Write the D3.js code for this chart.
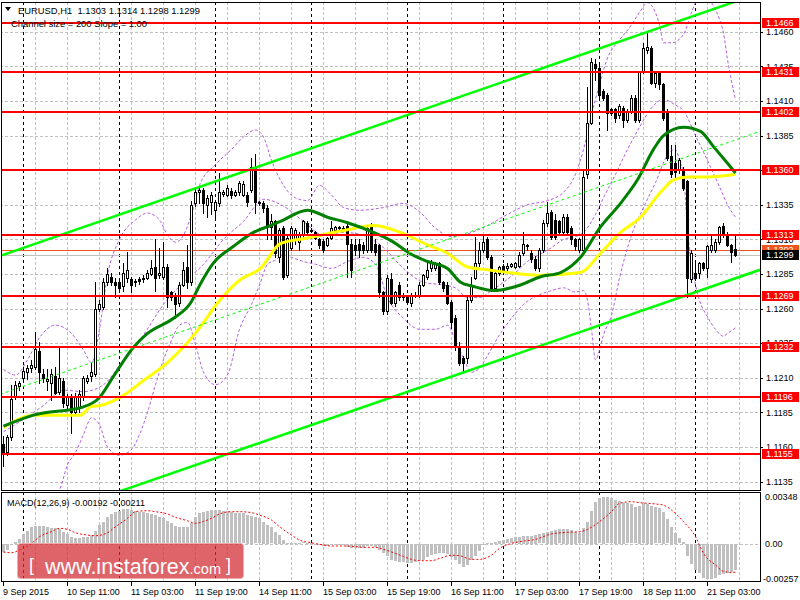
<!DOCTYPE html>
<html>
<head>
<meta charset="utf-8">
<script src="https://cdn.jsdelivr.net/npm/d3@7/dist/d3.min.js"></script>
<style>
  html, body { margin: 0; padding: 0; background: #fff; }
  svg { display: block; font-family: "Liberation Sans", Arial, sans-serif; font-size: 9px; }
</style>
</head>
<body>
<svg id="chart" width="800" height="600"></svg>
<script>
// EURUSD H1, 9 Sep 19:00 .. 21 Sep 10:00 (one value per hourly bar)
const open = [
  1.1162,1.1156,1.1167,1.1197,1.1204,1.1210,1.1214,1.1217,1.1218,1.1229,
  1.1213,1.1208,1.1206,1.1211,1.1200,1.1208,1.1190,1.1197,1.1185,1.1189,
  1.1196,1.1208,1.1211,1.1213,1.1260,1.1261,1.1279,1.1283,1.1279,1.1279,
  1.1276,1.1282,1.1281,1.1279,1.1281,1.1281,1.1282,1.1285,1.1290,1.1284,
  1.1283,1.1290,1.1272,1.1268,1.1264,1.1277,1.1290,1.1279,1.1336,1.1344,
  1.1346,1.1335,1.1337,1.1331,1.1336,1.1343,1.1342,1.1345,1.1342,1.1344,
  1.1342,1.1342,1.1346,1.1362,1.1337,1.1336,1.1333,1.1319,1.1323,1.1297,
  1.1318,1.1284,1.1304,1.1310,1.1308,1.1313,1.1322,1.1317,1.1315,1.1310,
  1.1309,1.1306,1.1311,1.1317,1.1318,1.1318,1.1320,1.1307,1.1306,1.1307,
  1.1306,1.1302,1.1319,1.1307,1.1306,1.1272,1.1258,1.1281,1.1264,1.1277,
  1.1268,1.1268,1.1264,1.1270,1.1270,1.1277,1.1283,1.1289,1.1289,1.1293,
  1.1279,1.1277,1.1265,1.1253,1.1232,1.1224,1.1224,1.1266,1.1282,1.1293,
  1.1302,1.1310,1.1297,1.1275,1.1286,1.1291,1.1289,1.1291,1.1290,1.1291,
  1.1300,1.1305,1.1300,1.1296,1.1289,1.1302,1.1322,1.1330,1.1324,1.1323,
  1.1315,1.1326,1.1318,1.1310,1.1302,1.1302,1.1357,1.1394,1.1437,1.1434,
  1.1417,1.1414,1.1404,1.1404,1.1400,1.1405,1.1396,1.1402,1.1412,1.1396,
  1.1431,1.1447,1.1448,1.1423,1.1431,1.1422,1.1401,1.1370,1.1365,1.1360,
  1.1360,1.1352,1.1281,1.1286,1.1286,1.1293,1.1289,1.1302,1.1302,1.1308,
  1.1320,1.1313,1.1306,1.1303
];
const high = [
  1.1168,1.1169,1.1205,1.1208,1.1208,1.1218,1.1219,1.1223,1.1243,1.1236,
  1.1216,1.1216,1.1216,1.1218,1.1232,1.1210,1.1198,1.1198,1.1199,1.1201,
  1.1211,1.1212,1.1221,1.1279,1.1266,1.1282,1.1289,1.1286,1.1282,1.1281,
  1.1293,1.1301,1.1283,1.1281,1.1283,1.1284,1.1288,1.1295,1.1310,1.1304,
  1.1308,1.1292,1.1273,1.1271,1.1279,1.1294,1.1306,1.1338,1.1348,1.1348,
  1.1347,1.1342,1.1344,1.1338,1.1358,1.1346,1.1349,1.1347,1.1346,1.1352,
  1.1352,1.1344,1.1369,1.1372,1.1338,1.1338,1.1335,1.1328,1.1324,1.1318,
  1.1320,1.1313,1.1320,1.1318,1.1315,1.1324,1.1323,1.1318,1.1316,1.1311,
  1.1310,1.1312,1.1323,1.1320,1.1320,1.1320,1.1323,1.1310,1.1310,1.1310,
  1.1308,1.1320,1.1322,1.1310,1.1307,1.1273,1.1284,1.1286,1.1273,1.1279,
  1.1271,1.1270,1.1271,1.1272,1.1279,1.1285,1.1295,1.1295,1.1294,1.1294,
  1.1280,1.1279,1.1266,1.1255,1.1236,1.1226,1.1268,1.1283,1.1312,1.1308,
  1.1313,1.1312,1.1299,1.1288,1.1291,1.1292,1.1293,1.1293,1.1294,1.1301,
  1.1315,1.1307,1.1302,1.1298,1.1304,1.1324,1.1337,1.1331,1.1328,1.1324,
  1.1328,1.1328,1.1320,1.1311,1.1311,1.1360,1.1420,1.1441,1.1440,1.1436,
  1.1419,1.1416,1.1405,1.1405,1.1408,1.1406,1.1404,1.1414,1.1414,1.1432,
  1.1452,1.1459,1.1450,1.1432,1.1432,1.1423,1.1404,1.1378,1.1378,1.1369,
  1.1362,1.1353,1.1302,1.1295,1.1294,1.1294,1.1306,1.1313,1.1310,1.1320,
  1.1322,1.1315,1.1307,1.1314
];
const low = [
  1.1146,1.1154,1.1165,1.1195,1.1201,1.1208,1.1209,1.1214,1.1216,1.1206,
  1.1207,1.1201,1.1194,1.1198,1.1198,1.1189,1.1188,1.1170,1.1183,1.1185,
  1.1194,1.1206,1.1208,1.1211,1.1258,1.1260,1.1277,1.1277,1.1268,1.1272,
  1.1273,1.1279,1.1272,1.1276,1.1278,1.1279,1.1281,1.1284,1.1273,1.1282,
  1.1281,1.1261,1.1266,1.1253,1.1262,1.1276,1.1275,1.1277,1.1334,1.1336,
  1.1329,1.1326,1.1328,1.1326,1.1334,1.1341,1.1341,1.1340,1.1341,1.1342,
  1.1341,1.1334,1.1344,1.1329,1.1335,1.1330,1.1310,1.1310,1.1297,1.1294,
  1.1281,1.1283,1.1302,1.1307,1.1302,1.1312,1.1314,1.1315,1.1310,1.1304,
  1.1301,1.1305,1.1310,1.1315,1.1317,1.1316,1.1283,1.1283,1.1299,1.1297,
  1.1300,1.1301,1.1301,1.1299,1.1268,1.1256,1.1256,1.1263,1.1262,1.1266,
  1.1266,1.1263,1.1262,1.1268,1.1268,1.1276,1.1281,1.1287,1.1288,1.1278,
  1.1273,1.1263,1.1246,1.1230,1.1219,1.1214,1.1221,1.1265,1.1281,1.1291,
  1.1301,1.1296,1.1273,1.1273,1.1284,1.1286,1.1288,1.1290,1.1289,1.1290,
  1.1299,1.1302,1.1294,1.1288,1.1287,1.1301,1.1320,1.1310,1.1310,1.1313,
  1.1313,1.1313,1.1307,1.1302,1.1301,1.1301,1.1354,1.1393,1.1425,1.1413,
  1.1411,1.1389,1.1400,1.1395,1.1398,1.1391,1.1395,1.1401,1.1395,1.1395,
  1.1430,1.1445,1.1422,1.1420,1.1419,1.1396,1.1367,1.1355,1.1354,1.1358,
  1.1346,1.1268,1.1279,1.1281,1.1282,1.1288,1.1283,1.1301,1.1301,1.1307,
  1.1312,1.1305,1.1294,1.1298
];
const close = [
  1.1156,1.1167,1.1195,1.1205,1.1206,1.1215,1.1217,1.1219,1.1231,1.1214,
  1.1210,1.1209,1.1213,1.1199,1.1210,1.1192,1.1196,1.1185,1.1196,1.1198,
  1.1210,1.1210,1.1214,1.1260,1.1263,1.1279,1.1285,1.1279,1.1277,1.1275,
  1.1286,1.1288,1.1277,1.1280,1.1280,1.1282,1.1286,1.1289,1.1282,1.1286,
  1.1290,1.1268,1.1268,1.1263,1.1277,1.1288,1.1279,1.1335,1.1344,1.1346,
  1.1336,1.1340,1.1342,1.1337,1.1344,1.1344,1.1347,1.1342,1.1344,1.1351,
  1.1350,1.1337,1.1362,1.1337,1.1336,1.1333,1.1319,1.1323,1.1300,1.1317,
  1.1283,1.1311,1.1318,1.1317,1.1313,1.1323,1.1315,1.1316,1.1311,1.1306,
  1.1302,1.1311,1.1318,1.1319,1.1319,1.1317,1.1307,1.1288,1.1302,1.1302,
  1.1302,1.1318,1.1302,1.1301,1.1272,1.1258,1.1282,1.1264,1.1272,1.1268,
  1.1269,1.1265,1.1270,1.1269,1.1277,1.1284,1.1288,1.1293,1.1292,1.1279,
  1.1275,1.1264,1.1250,1.1232,1.1221,1.1221,1.1266,1.1277,1.1293,1.1302,
  1.1308,1.1297,1.1275,1.1286,1.1290,1.1288,1.1291,1.1292,1.1293,1.1299,
  1.1307,1.1306,1.1296,1.1289,1.1302,1.1322,1.1329,1.1312,1.1312,1.1315,
  1.1326,1.1315,1.1310,1.1305,1.1310,1.1355,1.1394,1.1438,1.1434,1.1414,
  1.1412,1.1401,1.1401,1.1398,1.1406,1.1396,1.1402,1.1412,1.1396,1.1431,
  1.1448,1.1449,1.1423,1.1430,1.1422,1.1398,1.1369,1.1357,1.1359,1.1367,
  1.1347,1.1282,1.1300,1.1282,1.1293,1.1289,1.1305,1.1306,1.1308,1.1319,
  1.1313,1.1306,1.1301,1.1299
];

// moving averages, read as [bar, price]
const maGreen = [
  [0,1.1175],[7.5,1.1183],[20,1.1189],[23.75,1.1195],[27.5,1.1211],[32.5,1.1232],
  [36,1.1242],[42.5,1.1253],[46.75,1.1264],[49.25,1.1278],[52.5,1.1293],[57.5,1.1305],
  [62.5,1.1315],[66.75,1.1320],[69.25,1.1323],[76,1.1331],[81,1.1326],[86,1.1322],
  [92.5,1.1315],[97.5,1.1308],[101.5,1.1300],[106,1.1294],[111,1.1289],[114.25,1.1279],
  [117.5,1.1276],[122.5,1.1273],[129.25,1.1277],[134.25,1.1283],[139.25,1.1286],
  [144.25,1.1297],[149.25,1.1319],[154.25,1.1336],[158.5,1.1353],[162.5,1.1375],
  [165,1.1385],[170,1.1391],[174.25,1.1388],[177.5,1.1377],[181,1.1365],[183,1.1358]
];
const maYellow = [
  [0,1.1174],[7.5,1.1183],[11.75,1.1183],[19.25,1.1183],[21.75,1.1189],[24.25,1.1190],
  [29.25,1.1196],[35,1.1208],[41,1.1221],[44.25,1.1230],[49.25,1.1247],[53.5,1.1264],
  [59.25,1.1281],[64.25,1.1289],[69.25,1.1307],[76,1.1311],[86,1.1317],[92.5,1.1320],
  [99.25,1.1315],[106,1.1306],[111,1.1300],[116,1.1290],[121,1.1288],[129.25,1.1285],
  [134.25,1.1284],[144.25,1.1286],[149.25,1.1300],[154.25,1.1315],[159.25,1.1326],
  [164.25,1.1344],[167.5,1.1353],[171,1.1355],[176,1.1355],[183,1.1357]
];

// bands (dashed purple), read as [bar, price]
const bandUpper = [
  [0,1.1216],[3,1.1212],[6,1.1223],[9,1.1239],[13,1.1248],[17,1.1242],[20,1.1230],
  [22,1.1221],[24,1.1245],[26,1.1284],[29,1.1310],[33,1.1324],[36,1.1329],[39,1.1324],
  [41,1.1313],[43,1.1308],[45,1.1313],[47,1.1328],[49,1.1349],[53,1.1364],[57,1.1375],
  [60,1.1384],[63,1.1389],[65,1.1384],[67,1.1367],[70,1.1349],[73,1.1340],[76,1.1338],
  [79,1.1349],[82,1.1342],[85,1.1333],[89,1.1331],[95,1.1333],[100,1.1336],[104,1.1330],
  [108,1.1318],[112,1.1312],[116,1.1314],[121,1.1320],[126,1.1328],[131,1.1335],
  [136,1.1338],[140,1.1344],[143,1.1357],[145,1.1375],[147,1.1400],[149,1.1422],
  [151,1.1441],[154,1.1454],[157,1.1465],[159,1.1474],[161,1.1481],[162,1.1479],
  [164,1.1465],[165,1.1452],[167,1.1452],[170,1.1458],[172,1.1474],[173,1.1481],
  [174,1.1485],[176,1.1485],[177,1.1481],[179,1.1469],[180,1.1459],[181,1.1440],[183,1.1411]
];
const bandMiddle = [
  [0,1.1171],[5,1.1180],[10,1.1190],[15,1.1201],[20,1.1200],[25,1.1205],[30,1.1223],
  [35,1.1241],[40,1.1263],[45,1.1279],[50,1.1292],[55,1.1310],[60,1.1323],[65,1.1339],
  [70,1.1334],[75,1.1323],[80,1.1313],[85,1.1315],[90,1.1313],[95,1.1304],[100,1.1289],
  [105,1.1279],[110,1.1277],[113,1.1275],[116,1.1268],[119,1.1268],[122,1.1273],
  [125,1.1279],[128,1.1286],[131,1.1294],[134,1.1299],[137,1.1304],[140,1.1310],
  [143,1.1312],[145,1.1315],[148,1.1328],[150,1.1340],[153,1.1357],[156,1.1375],
  [159,1.1391],[162,1.1405],[165,1.1411],[168,1.1407],[170,1.1403],[173,1.1385],
  [176,1.1367],[179,1.1348],[181,1.1335],[183,1.1326]
];
const bandLower = [
  [0,1.1122],[10,1.1118],[14,1.1129],[16,1.1147],[18,1.1156],[20,1.1169],[22,1.1181],
  [24,1.1176],[26,1.1160],[29,1.1154],[32,1.1158],[34,1.1169],[36,1.1185],[38,1.1205],
  [40,1.1223],[42,1.1237],[44,1.1248],[46,1.1250],[48,1.1234],[50,1.1214],[53,1.1205],
  [56,1.1212],[59,1.1245],[62,1.1263],[64,1.1277],[66,1.1292],[68,1.1295],[70,1.1299],
  [72,1.1297],[75,1.1294],[78,1.1292],[82,1.1289],[86,1.1294],[90,1.1297],[93,1.1292],
  [96,1.1268],[100,1.1253],[104,1.1245],[108,1.1245],[111,1.1248],[113,1.1237],
  [115,1.1224],[117,1.1214],[119,1.1217],[121,1.1226],[124,1.1241],[127,1.1253],
  [130,1.1263],[134,1.1270],[137,1.1273],[140,1.1275],[143,1.1272],[145,1.1273],
  [146,1.1266],[147,1.1245],[148,1.1223],[149,1.1230],[150,1.1241],[152,1.1255],
  [154,1.1282],[157,1.1313],[160,1.1333],[163,1.1351],[166,1.1371],[168,1.1375],
  [169,1.1367],[170,1.1357],[171,1.1317],[172,1.1292],[173,1.1277],[174,1.1266],
  [176,1.1254],[178,1.1245],[180,1.1240],[181,1.1242],[183,1.1246]
];

// equidistant channel (size 200, slope 1.00)
const channelUpper = [[-0.75, 1.1298], [189.25, 1.1488]];
const channelMiddle = [[-0.75, 1.1198], [189.25, 1.1388]];
const channelLower = [[-0.75, 1.1098], [189.25, 1.1288]];

const levels = [1.1466, 1.1431, 1.1402, 1.1360, 1.1313, 1.1269, 1.1232, 1.1196, 1.1155];
const priceTicks = [1.1460, 1.1435, 1.1410, 1.1385, 1.1360, 1.1335, 1.1310, 1.1285,
                    1.1260, 1.1235, 1.1210, 1.1185, 1.1160, 1.1135];
const bid = 1.1299, ask = 1.1302;

// MACD(12,26,9) main (histogram) per bar
const macd = [
  -0.00059,-0.00042,-0.00010,0.00015,0.00032,0.00069,0.00096,0.00121,0.00131,0.00133,
  0.00131,0.00126,0.00118,0.00114,0.00106,0.00089,0.00072,0.00052,0.00044,0.00039,
  0.00047,0.00052,0.00064,0.00096,0.00138,0.00163,0.00195,0.00220,0.00232,0.00242,
  0.00254,0.00254,0.00249,0.00242,0.00237,0.00232,0.00225,0.00220,0.00212,0.00200,
  0.00188,0.00170,0.00151,0.00133,0.00126,0.00121,0.00126,0.00151,0.00195,0.00225,
  0.00237,0.00244,0.00249,0.00249,0.00249,0.00244,0.00239,0.00234,0.00230,0.00230,
  0.00225,0.00212,0.00205,0.00195,0.00188,0.00163,0.00138,0.00121,0.00089,0.00064,
  0.00027,0.00007,0.00002,0.00002,0.00007,0.00010,0.00007,0.00002,-0.00005,-0.00010,
  -0.00017,-0.00017,-0.00010,-0.00005,-0.00010,-0.00010,-0.00022,-0.00027,-0.00027,-0.00027,
  -0.00027,-0.00017,-0.00017,-0.00022,-0.00042,-0.00067,-0.00091,-0.00116,-0.00126,-0.00131,
  -0.00133,-0.00141,-0.00141,-0.00133,-0.00126,-0.00116,-0.00096,-0.00084,-0.00072,-0.00067,
  -0.00067,-0.00077,-0.00096,-0.00121,-0.00151,-0.00170,-0.00158,-0.00121,-0.00091,-0.00052,
  -0.00010,0.00007,0.00007,0.00015,0.00022,0.00027,0.00032,0.00039,0.00047,0.00052,
  0.00057,0.00059,0.00059,0.00064,0.00069,0.00077,0.00089,0.00096,0.00101,0.00106,
  0.00109,0.00109,0.00101,0.00089,0.00077,0.00114,0.00163,0.00242,0.00311,0.00336,
  0.00348,0.00343,0.00336,0.00323,0.00316,0.00304,0.00299,0.00291,0.00269,0.00279,
  0.00299,0.00294,0.00279,0.00269,0.00262,0.00237,0.00180,0.00126,0.00081,0.00039,
  0.00015,-0.00091,-0.00151,-0.00190,-0.00215,-0.00249,-0.00257,-0.00257,-0.00249,-0.00232,
  -0.00222,-0.00212,-0.00205,-0.00192
];
// signal line, read as [bar, value]
const macdSignal = [
  [0,-0.00062],[2,-0.00067],[4,-0.00047],[7,0.00002],[9,0.00052],[12,0.00089],[14,0.00114],
  [16,0.00106],[18,0.00081],[21,0.00064],[23,0.00059],[26,0.00081],[28,0.00126],[31,0.00188],
  [33,0.00237],[36,0.00244],[38,0.00237],[41,0.00220],[43,0.00195],[46,0.00170],[48,0.00151],
  [50,0.00165],[52,0.00188],[54,0.00220],[57,0.00237],[59,0.00237],[62,0.00230],[64,0.00212],
  [67,0.00175],[69,0.00126],[72,0.00064],[74,0.00027],[77,0.00007],[79,-0.00005],[82,-0.00017],
  [85,-0.00017],[88,-0.00022],[90,-0.00027],[93,-0.00027],[95,-0.00042],[98,-0.00072],
  [100,-0.00095],[102,-0.00116],[104,-0.00126],[107,-0.00126],[109,-0.00109],[112,-0.00086],
  [114,-0.00089],[117,-0.00116],[119,-0.00116],[122,-0.00084],[124,-0.00035],[127,0.00002],
  [129,0.00015],[133,0.00032],[137,0.00072],[141,0.00084],[144,0.00089],[146,0.00106],
  [149,0.00163],[152,0.00237],[154,0.00299],[157,0.00311],[159,0.00304],[163,0.00294],
  [165,0.00286],[167,0.00249],[170,0.00163],[173,0.00052],[175,-0.00072],[178,-0.00158],
  [180,-0.00205],[182,-0.00213],[183,-0.00211]
];

const svg = d3.select('#chart');
const plotRight = 760, mainTop = 2, mainBottom = 490, macdTop = 492, macdBottom = 582;

// bar index -> x (4 px per bar), price -> y
const x = d3.scaleLinear().domain([-0.75, 189.25]).range([0, plotRight]);
const y = d3.scaleLinear().domain([1.11289, 1.14815]).range([mainBottom, mainTop]);
const ym = d3.scaleLinear().domain([-0.00257, 0.00348]).range([578.4, 496.7]);

// bar times: hourly, weekend skipped
const times = [];
let t = new Date(2015, 8, 9, 19);
for (let i = 0; i < open.length; i++) {
  times.push(new Date(t));
  t = d3.timeHour.offset(t, 1);
  while (t.getDay() === 0 || t.getDay() === 6) t = d3.timeHour.offset(t, 1);
}
const fmt = d3.timeFormat('%-d %b %H:%M');
const separators = d3.range(times.length).filter(i => times[i].getHours() === 0);
const gridBars = d3.range(8, 190, 8);
const labelBars = d3.range(0, times.length, 16);

const defs = svg.append('defs');
defs.append('clipPath').attr('id', 'mainClip').append('rect')
  .attr('x', 2).attr('y', mainTop + 1).attr('width', plotRight - 2).attr('height', mainBottom - mainTop - 1);
defs.append('clipPath').attr('id', 'macdClip').append('rect')
  .attr('x', 2).attr('y', macdTop + 1).attr('width', plotRight - 2).attr('height', macdBottom - macdTop - 1);

const main = svg.append('g').attr('clip-path', 'url(#mainClip)');
const px = v => Math.round(v) + 0.5;

// grid
main.append('g').selectAll('line').data(priceTicks).enter().append('line')
  .attr('x1', 0).attr('x2', plotRight)
  .attr('y1', d => px(y(d))).attr('y2', d => px(y(d)))
  .attr('stroke', '#c0c0c0').attr('stroke-dasharray', '3,2');
main.append('g').selectAll('line').data(gridBars).enter().append('line')
  .attr('x1', d => x(d) + 0.5).attr('x2', d => x(d) + 0.5)
  .attr('y1', mainTop).attr('y2', mainBottom)
  .attr('stroke', '#c0c0c0').attr('stroke-dasharray', '3,2');
main.append('g').selectAll('line').data(separators).enter().append('line')
  .attr('x1', d => x(d) + 0.5).attr('x2', d => x(d) + 0.5)
  .attr('y1', mainTop).attr('y2', mainBottom)
  .attr('stroke', '#000').attr('stroke-dasharray', '3,3');

// header (objects are drawn over it)
svg.append('path').attr('d', 'M5,7 L11,7 L8,11 Z').attr('fill', '#000');
svg.append('text').attr('x', 18).attr('y', 13.5).attr('fill', '#000').style('font-size', '9.4px')
  .attr('xml:space', 'preserve').text('EURUSD,H1  1.1303 1.1314 1.1298 1.1299');
svg.append('text').attr('x', 11).attr('y', 26.5).attr('fill', '#000').style('font-size', '9.4px')
  .text('Channel size = 200 Slope = 1.00');

// bid / ask lines
main.append('line').attr('x1', 0).attr('x2', plotRight)
  .attr('y1', px(y(ask))).attr('y2', px(y(ask))).attr('stroke', '#f0541e');
main.append('line').attr('x1', 0).attr('x2', plotRight)
  .attr('y1', px(y(bid))).attr('y2', px(y(bid))).attr('stroke', '#c0c0c0');

// bands
const pl = d3.line().x(d => x(d[0]) + 0.5).y(d => y(d[1])).curve(d3.curveMonotoneX);
[bandUpper, bandMiddle, bandLower].forEach(b => {
  main.append('path').attr('d', pl(b)).attr('fill', 'none')
    .attr('stroke', '#b45ee0').attr('stroke-width', 1).attr('stroke-dasharray', '3,2');
});

// candles
const candles = main.append('g');
open.forEach((o, i) => {
  const cx = x(i);
  const c = close[i];
  const hi = Math.round(y(high[i])), lo = Math.round(y(low[i]));
  const top = Math.round(y(Math.max(o, c))), bot = Math.round(y(Math.min(o, c)));
  candles.append('rect').attr('x', cx).attr('y', hi).attr('width', 1)
    .attr('height', Math.max(1, lo - hi + 1)).attr('fill', '#000');
  candles.append('rect').attr('x', cx - 1).attr('y', top).attr('width', 3)
    .attr('height', Math.max(1, bot - top + 1)).attr('fill', '#000');
  if (c > o && bot - top >= 2) {
    candles.append('rect').attr('x', cx).attr('y', top + 1).attr('width', 1)
      .attr('height', bot - top - 1).attr('fill', '#fff');
  }
});

// moving averages
main.append('path').attr('d', pl(maYellow)).attr('fill', 'none')
  .attr('stroke', '#ffff00').attr('stroke-width', 3);
main.append('path').attr('d', pl(maGreen)).attr('fill', 'none')
  .attr('stroke', '#008000').attr('stroke-width', 3);

// channel
const sl = d3.line().x(d => x(d[0])).y(d => y(d[1]));
main.append('path').attr('d', sl(channelUpper)).attr('stroke', '#00ff00').attr('stroke-width', 2.5);
main.append('path').attr('d', sl(channelLower)).attr('stroke', '#00ff00').attr('stroke-width', 2.5);
main.append('path').attr('d', sl(channelMiddle)).attr('stroke', '#00ff00')
  .attr('stroke-width', 1).attr('stroke-dasharray', '3,3');

// horizontal levels
main.append('g').selectAll('line').data(levels).enter().append('line')
  .attr('x1', 0).attr('x2', plotRight)
  .attr('y1', d => Math.round(y(d))).attr('y2', d => Math.round(y(d)))
  .attr('stroke', '#ff0000').attr('stroke-width', 2);

// MACD panel
const mp = svg.append('g').attr('clip-path', 'url(#macdClip)');
mp.append('g').selectAll('line').data(gridBars).enter().append('line')
  .attr('x1', d => x(d) + 0.5).attr('x2', d => x(d) + 0.5)
  .attr('y1', macdTop).attr('y2', macdBottom)
  .attr('stroke', '#c0c0c0').attr('stroke-dasharray', '3,2');
mp.append('g').selectAll('line').data(separators).enter().append('line')
  .attr('x1', d => x(d) + 0.5).attr('x2', d => x(d) + 0.5)
  .attr('y1', macdTop).attr('y2', macdBottom)
  .attr('stroke', '#000').attr('stroke-dasharray', '3,3');
mp.append('line').attr('x1', 0).attr('x2', plotRight)
  .attr('y1', px(ym(0))).attr('y2', px(ym(0)))
  .attr('stroke', '#c0c0c0').attr('stroke-dasharray', '3,2');
mp.append('g').selectAll('rect').data(macd).enter().append('rect')
  .attr('x', (d, i) => x(i) - 1).attr('width', 3)
  .attr('y', d => Math.round(Math.min(ym(d), ym(0))))
  .attr('height', d => Math.max(1, Math.round(Math.abs(ym(d) - ym(0)))))
  .attr('fill', '#c0c0c0');
mp.append('path')
  .attr('d', d3.line().x(d => x(d[0]) + 0.5).y(d => ym(d[1])).curve(d3.curveMonotoneX)(macdSignal))
  .attr('fill', 'none').attr('stroke', '#ff0000').attr('stroke-dasharray', '2,2');
svg.append('text').attr('x', 7).attr('y', 505.5).attr('fill', '#000')
  .text('MACD(12,26,9) -0.00192 -0.00211');

// frames
const frame = svg.append('g').attr('fill', 'none').attr('stroke', '#000');
frame.append('rect').attr('x', 1.5).attr('y', mainTop + 0.5).attr('width', plotRight - 1).attr('height', mainBottom - mainTop);
frame.append('rect').attr('x', 1.5).attr('y', macdTop + 0.5).attr('width', plotRight - 1).attr('height', macdBottom - macdTop - 1);

// price axis
const axis = svg.append('g');
priceTicks.forEach(p => {
  const yy = px(y(p));
  axis.append('line').attr('x1', plotRight).attr('x2', plotRight + 3).attr('y1', yy).attr('y2', yy).attr('stroke', '#000');
  axis.append('text').attr('x', 766).attr('y', y(p)).attr('dy', '0.35em').attr('fill', '#000').text(p.toFixed(4));
});
levels.forEach(p => {
  const yy = Math.round(y(p));
  axis.append('rect').attr('x', 762).attr('y', yy - 5).attr('width', 37).attr('height', 10).attr('fill', '#ff0000');
  axis.append('text').attr('x', 766).attr('y', yy).attr('dy', '0.35em').attr('fill', '#fff').text(p.toFixed(4));
});
[[ask, '#f0541e'], [bid, '#000']].forEach(([p, col]) => {
  const yy = Math.round(y(p));
  axis.append('rect').attr('x', 762).attr('y', yy - 5).attr('width', 37).attr('height', 10).attr('fill', col);
  axis.append('text').attr('x', 766).attr('y', yy).attr('dy', '0.35em').attr('fill', '#fff').text(p.toFixed(4));
});

// MACD axis labels
[[0.00348, '0.00348'], [0, '0.00'], [-0.00257, '-0.00257']].forEach(([v, s]) => {
  svg.append('text').attr('x', v < 0 ? 763 : 765).attr('y', ym(v)).attr('dy', '0.35em')
    .attr('fill', '#000').text(s);
});

// time axis
labelBars.forEach(i => {
  svg.append('line').attr('x1', x(i) + 0.5).attr('x2', x(i) + 0.5)
    .attr('y1', macdBottom).attr('y2', macdBottom + 4).attr('stroke', '#000');
  svg.append('text').attr('x', x(i)).attr('y', 594.5).attr('fill', '#000')
    .text(i === 0 ? '9 Sep 2015' : fmt(times[i]));
});

// watermark
const logo = svg.append('g');
logo.append('rect').attr('x', 17.5).attr('y', 543.5).attr('width', 226).attr('height', 35).attr('rx', 3)
  .attr('fill', 'rgba(210, 46, 52, 0.74)').attr('stroke', 'rgba(240, 170, 170, 0.9)');
const lt = logo.append('text').attr('y', 574).attr('fill', '#fff');
lt.append('tspan').attr('x', 29).attr('y', 571).style('font-size', '18px').text('[');
lt.append('tspan').attr('x', 45).attr('y', 574).style('font-size', '21.5px').text('www.instaforex');
lt.append('tspan').style('font-size', '14.5px').text('.com');
lt.append('tspan').attr('dx', 5).attr('y', 571).style('font-size', '18px').text(']');
</script>
</body>
</html>
